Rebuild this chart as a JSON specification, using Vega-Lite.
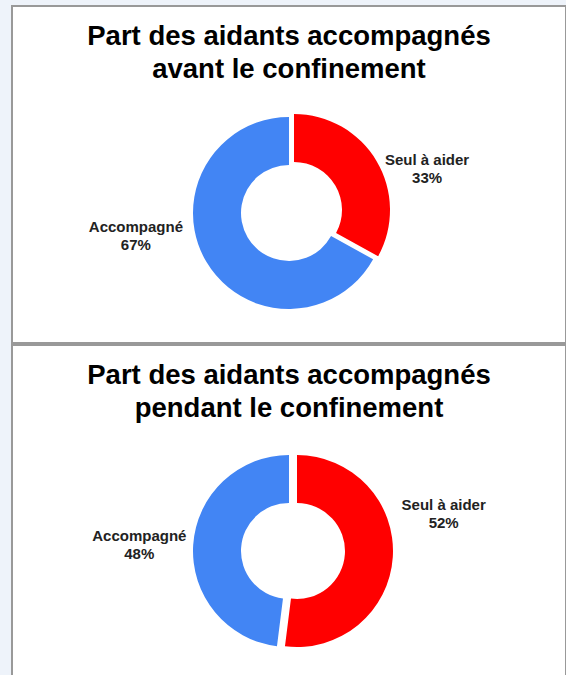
{
  "$schema": "https://vega.github.io/schema/vega-lite/v6.json",
  "background": "#eef3fa",
  "padding": {"left": 11, "top": 5, "right": 0, "bottom": 0},
  "spacing": 0,
  "config": {
    "view": {"stroke": "#999999", "strokeWidth": 2, "fill": "white"},
    "concat": {"spacing": 0},
    "title": {"font": "Liberation Sans", "fontSize": 27.5, "fontWeight": "bold", "color": "#000000", "lineHeight": 33, "anchor": "middle"},
    "text": {"font": "Liberation Sans", "fontSize": 15, "fontWeight": "bold", "color": "#222222", "lineBreak": "\n", "lineHeight": 18}
  },
  "datasets": {
    "avant": [
      {"category": "Seul à aider", "value": 33, "label": "Seul à aider\n33%"},
      {"category": "Accompagné", "value": 67, "label": "Accompagné\n67%"}
    ],
    "pendant": [
      {"category": "Seul à aider", "value": 52, "label": "Seul à aider\n52%"},
      {"category": "Accompagné", "value": 48, "label": "Accompagné\n48%"}
    ]
  },
  "vconcat": [
    {
      "width": 554,
      "height": 337,
      "view": {"stroke": "#999999", "strokeWidth": 2, "fill": "white"},
      "title": {"text": ["Part des aidants accompagnés", "avant le confinement"], "offset": -77},
      "data": {"name": "avant"},
      "encoding": {
        "theta": {"field": "value", "type": "quantitative", "stack": true},
        "order": {"field": "category", "sort": "descending"},
        "color": {"field": "category", "type": "nominal", "scale": {"domain": ["Seul à aider", "Accompagné"], "range": ["#ff0000", "#4285f4"]}, "legend": null}
      },
      "layer": [
        {"mark": {"type": "arc", "innerRadius": 48, "outerRadius": 96, "yOffset": 38.5},
         "encoding": {"opacity": {"condition": {"test": "datum.category === 'Accompagné'", "value": 1}, "value": 0}}},
        {"mark": {"type": "arc", "innerRadius": 48, "outerRadius": 96, "xOffset": 5, "yOffset": 35.5},
         "encoding": {"opacity": {"condition": {"test": "datum.category === 'Seul à aider'", "value": 1}, "value": 0}}},
        {"mark": {"type": "text", "radius": 150, "yOffset": 38.5, "dx": 9, "dy": 23},
         "encoding": {"text": {"field": "label"}, "color": {"value": "#222222"}, "opacity": {"condition": {"test": "datum.category === 'Seul à aider'", "value": 1}, "value": 0}}},
        {"mark": {"type": "text", "radius": 150, "yOffset": 38.5, "dx": -24, "dy": -62},
         "encoding": {"text": {"field": "label"}, "color": {"value": "#222222"}, "opacity": {"condition": {"test": "datum.category === 'Accompagné'", "value": 1}, "value": 0}}}
      ]
    },
    {
      "width": 554,
      "height": 332,
      "view": {"stroke": "#999999", "strokeWidth": 2, "fill": "white"},
      "title": {"text": ["Part des aidants accompagnés", "pendant le confinement"], "offset": -77},
      "data": {"name": "pendant"},
      "encoding": {
        "theta": {"field": "value", "type": "quantitative", "stack": true},
        "order": {"field": "category", "sort": "descending"},
        "color": {"field": "category", "type": "nominal", "scale": {"domain": ["Seul à aider", "Accompagné"], "range": ["#ff0000", "#4285f4"]}, "legend": null}
      },
      "layer": [
        {"mark": {"type": "arc", "innerRadius": 48, "outerRadius": 96, "yOffset": 40},
         "encoding": {"opacity": {"condition": {"test": "datum.category === 'Accompagné'", "value": 1}, "value": 0}}},
        {"mark": {"type": "arc", "innerRadius": 48, "outerRadius": 96, "xOffset": 8, "yOffset": 40},
         "encoding": {"opacity": {"condition": {"test": "datum.category === 'Seul à aider'", "value": 1}, "value": 0}}},
        {"mark": {"type": "text", "radius": 150, "yOffset": 40, "dx": 5, "dy": -55},
         "encoding": {"text": {"field": "label"}, "color": {"value": "#222222"}, "opacity": {"condition": {"test": "datum.category === 'Seul à aider'", "value": 1}, "value": 0}}},
        {"mark": {"type": "text", "radius": 150, "yOffset": 40, "dx": 0, "dy": -6},
         "encoding": {"text": {"field": "label"}, "color": {"value": "#222222"}, "opacity": {"condition": {"test": "datum.category === 'Accompagné'", "value": 1}, "value": 0}}}
      ]
    }
  ]
}
